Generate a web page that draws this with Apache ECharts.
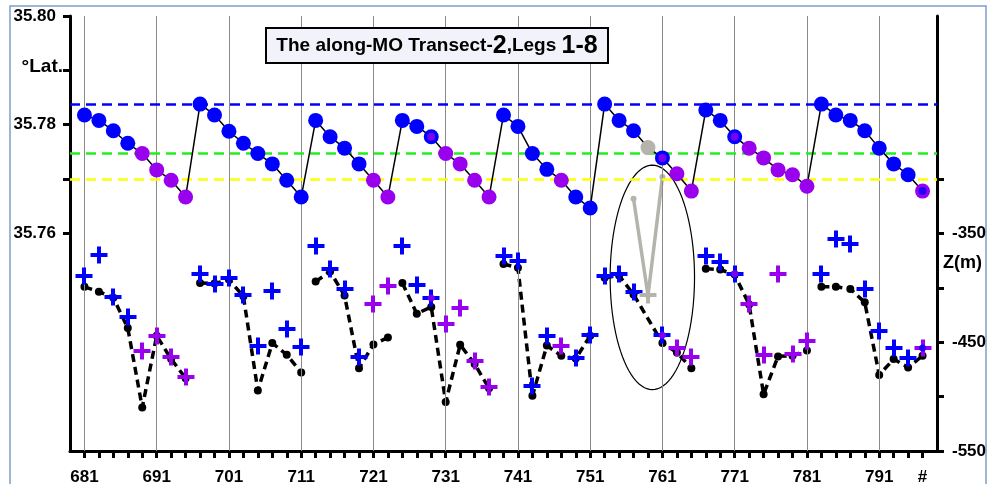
<!DOCTYPE html>
<html>
<head>
<meta charset="utf-8">
<script src="https://cdn.jsdelivr.net/npm/echarts@6/dist/echarts.min.js"></script>
<style>
html,body{margin:0;padding:0;background:#fff;}
#chart{width:987px;height:484px;}
</style>
</head>
<body>
<div id="chart"></div>
<script>
// ---------------- DATA ----------------
const sampleNo = [681,683,685,687,689,691,693,695,697,699,701,703,705,707,709,711,713,715,717,719,721,723,725,727,729,731,733,735,737,739,741,743,745,747,749,751,753,755,757,759,761,763,765,767,769,771,773,775,777,779,781,783,785,787,789,791,793,795,797];
const legStarts = [681,697,713,725,739,753,767,783];
const latitude = [35.7818,35.7808,35.7789,35.7766,35.7747,35.7717,35.7698,35.7667,
  35.7838,35.7818,35.7788,35.7766,35.7747,35.7728,35.7698,35.7667,
  35.7808,35.7778,35.7757,35.7728,35.7698,35.7667,
  35.7808,35.7797,35.7778,35.7747,35.7728,35.7698,35.7667,
  35.7818,35.7797,35.7747,35.7718,35.7698,35.7667,35.7647,
  35.7838,35.7808,35.7789,35.7758,35.7739,35.7710,35.7678,
  35.7827,35.7808,35.7778,35.7757,35.7739,35.7717,35.7708,35.7687,
  35.7838,35.7818,35.7808,35.7789,35.7757,35.7728,35.7708,35.7678];
const latClass = ['B','B','B','B','P','P','P','P',
  'B','B','B','B','B','B','B','B',
  'B','B','B','B','P','P',
  'B','B','BP','P','P','P','P',
  'B','B','B','B','P','B','B',
  'B','B','B','G','BP','P','P',
  'B','B','BP','P','P','P','P','P',
  'B','B','B','B','B','B','B','PB'];
const bottomZ = [-399,-403.5,-409,-437,-510,-444,-465.5,-483,
  -395.5,-396,-392.4,-407.8,-494.4,-450.8,-461.5,-477.8,
  -394.2,-385,-407,-474,-452,-445.6,
  -395.5,-423.7,-417.6,-505,-452.3,-470,-492.3,
  -378,-381.6,-499.3,-453,-462.4,-465,-444,
  -390.8,-388.7,-406,null,-450.8,-459.4,-473.8,
  -382.3,-383.2,-387.8,-415.4,-497.8,-463,-462.4,-457.5,
  -399,-399,-401,-413.3,-480,-465.5,-473.2,-462.4];
const sampleZ = [-388.7,-369.4,-408.7,-426.8,-458.5,-444,-464,-482.4,
  -386.9,-396,-390.8,-406.5,-453.2,-403.2,-437.6,-454.8,
  -361.7,-382.5,-401,-464,-414.5,-397.9,
  -361.7,-397.6,-409.3,-433.3,-418.5,-467.7,-491.3,
  -370.3,-375.5,-489.8,-444,-453.2,-464.6,-443.1,
  -388.7,-387.1,-403.7,-407,-443.5,-455.4,-464,
  -370.3,-376.1,-387.1,-414.5,-461.5,-387.1,-460.9,-448.6,
  -386.9,-354.9,-359.2,-400.7,-439.4,-455.4,-464.6,-455.4];
const sampleClass = ['B','B','B','B','P','P','P','P',
  'B','B','B','B','B','B','B','B',
  'B','B','B','B','P','P',
  'B','B','BP','P','P','P','P',
  'B','B','B','B','P','B','B',
  'B','B','B','G','BP','P','P',
  'B','B','BP','P','P','P','P','P',
  'B','B','B','B','B','B','B','PB'];
const rejectedX = [757,759,761];
const rejectedZ = [-318,-407,-298];
const refLat = {blue:35.7838, green:35.7747, yellow:35.770};
const gridNo = [681,691,701,711,721,731,741,751,761,771,781,791];
const xTickValues = [681,691,701,711,721,731,741,751,761,771,781,791,797];
const xTickLabels = ['681','691','701','711','721','731','741','751','761','771','781','791','#'];
const latTicks = [35.76,35.77,35.78,35.79,35.80];
const latLabels = [35.76,35.78,35.80];
const zTicks = [-550,-500,-450,-400,-350,-300];
const zLabels = [-550,-450,-350];
const ellipse = [759.6,-390.4,5.84,103.2]; // centre (no., m) and half-axes
const titleParts = ['The along-MO Transect-','2',',Legs ','1-8'];

// ---------------- STYLE ----------------
const FF = '"Liberation Sans", Arial, sans-serif';
const COL = {B:'#0000ff', P:'#9900ee', G:'#b4b4ac'};
const inner = c => c.length > 1 ? COL[c[1]] : null;
const PLUS_LEN = 17, PLUS_W = 4;

// ---------------- BUILD ----------------
function legOf(n){ let k=0; legStarts.forEach((s,i)=>{ if(n>=s) k=i; }); return k; }

const latData = sampleNo.map((n,i)=>({value:[n,latitude[i]], itemStyle:{color:COL[latClass[i][0]]}}));
const latInner = [];
sampleNo.forEach((n,i)=>{ if(inner(latClass[i])) latInner.push({value:[n,latitude[i]], itemStyle:{color:inner(latClass[i])}}); });
const plusData = sampleNo.map((n,i)=>({value:[n,sampleZ[i]], itemStyle:{color:COL[sampleClass[i][0]]}}));
const plusInner = [];
sampleNo.forEach((n,i)=>{ if(inner(sampleClass[i])) plusInner.push({value:[n,sampleZ[i]], itemStyle:{color:inner(sampleClass[i])}}); });

const bottomSeries = legStarts.map((s,k)=>({
  type:'line', yAxisIndex:1, z:4, connectNulls:true,
  data: sampleNo.map((n,i)=>[n,bottomZ[i]]).filter((d,i)=>legOf(sampleNo[i])===k),
  symbol:'circle', symbolSize:8, showSymbol:true,
  itemStyle:{color:'#000'},
  lineStyle:{color:'#000', width:3.5, type:[8,5]},
  silent:true
}));

const chart = echarts.init(document.getElementById('chart'), null, {renderer:'canvas'});
const axisLbl = {color:'#000', fontFamily:FF, fontWeight:'bold', fontSize:16};

const option = {
  animation:false,
  backgroundColor:'#fff',
  grid:{left:70, right:50, top:16, bottom:33, containLabel:false, outerBoundsMode:'none'},
  xAxis:{
    type:'value', min:679, max:799, interval:2,
    axisLine:{lineStyle:{color:'#000', width:3}},
    axisTick:{show:true, customValues:sampleNo, length:7, lineStyle:{color:'#000', width:3}},
    axisLabel:Object.assign({customValues:xTickValues, margin:18,
      formatter:v=>xTickLabels[xTickValues.indexOf(v)] ?? ''}, axisLbl, {fontSize:17}),
    splitLine:{show:false}
  },
  yAxis:[{
    type:'value', position:'left', min:35.72, max:35.80, interval:0.01,
    axisLine:{show:true, lineStyle:{color:'#000', width:3}},
    axisTick:{show:true, customValues:latTicks, length:7, lineStyle:{color:'#000', width:3}},
    axisLabel:Object.assign({customValues:latLabels, margin:14, formatter:v=>v.toFixed(2)}, axisLbl, {fontSize:17}),
    splitLine:{show:false}
  },{
    type:'value', position:'right', min:-550, max:-150, interval:50,
    axisLine:{show:true, lineStyle:{color:'#000', width:3}},
    axisTick:{show:true, customValues:zTicks, length:7, lineStyle:{color:'#000', width:3}},
    axisLabel:Object.assign({customValues:zLabels, margin:15, formatter:v=>String(v)}, axisLbl, {fontSize:17}),
    splitLine:{show:false}
  }],
  graphic:[
    {type:'rect', shape:{x:10, y:6, width:976, height:520}, style:{fill:'none', stroke:'#7e9fcc', lineWidth:1.5}, z:0, silent:true},
    {type:'rect', shape:{x:266, y:28, width:342, height:35}, style:{fill:'#f2f2fa', stroke:'#000', lineWidth:2}, z:100},
    {type:'text', x:437, y:46, z:101, style:{
      text:'{a|'+titleParts[0]+'}{b|'+titleParts[1]+'}{a|'+titleParts[2]+'}{b|'+titleParts[3]+'}',
      align:'center', verticalAlign:'middle', textAlign:'center', textVerticalAlign:'middle',
      rich:{a:{fontFamily:FF, fontWeight:'bold', fontSize:19, fill:'#000'},
            b:{fontFamily:FF, fontWeight:'bold', fontSize:25, fill:'#000'}}}},
    {type:'text', x:63, y:67, z:50, style:{text:'°Lat.', font:'bold 19px '+FF, fill:'#000', align:'right', verticalAlign:'middle', textAlign:'right', textVerticalAlign:'middle'}},
    {type:'text', x:943, y:263, z:50, style:{text:'Z(m)', font:'bold 18px '+FF, fill:'#000', align:'left', verticalAlign:'middle', textAlign:'left', textVerticalAlign:'middle'}}
  ],
  series:[
    {type:'line', yAxisIndex:0, data:[], z:1, silent:true,
      markLine:{silent:true, precision:5, symbol:['none','none'], label:{show:false}, animation:false,
        data: gridNo.map(n=>({xAxis:n, lineStyle:{color:'#8a8a8a', width:1, type:'solid'}})).concat([
          {yAxis:refLat.blue, lineStyle:{color:'#0000ff', width:2.5, type:[10,6]}},
          {yAxis:refLat.green, lineStyle:{color:'#22ee22', width:2.5, type:[10,6]}},
          {yAxis:refLat.yellow, lineStyle:{color:'#ffff00', width:2.5, type:[10,6]}}
        ])}},
    {type:'custom', yAxisIndex:1, z:2, silent:true, data:[ellipse],
      renderItem:(params, api)=>{
        const c = api.coord([api.value(0), api.value(1)]);
        const s = api.size([api.value(2), api.value(3)]);
        const pts = [];
        for(let t=0;t<=96;t++){ const a=t/96*Math.PI*2; pts.push([c[0]+s[0]*Math.cos(a), c[1]+s[1]*Math.sin(a)]); }
        return {type:'polygon', shape:{points:pts}, style:{fill:'none', stroke:'#000', lineWidth:1.2}};
      }},
    {type:'line', yAxisIndex:1, z:3, silent:true,
      data: rejectedX.map((n,i)=>[n,rejectedZ[i]]),
      symbol:'circle', symbolSize:6, itemStyle:{color:'#b4b4ac'},
      lineStyle:{color:'#b4b4ac', width:3.5}},
    ...bottomSeries,
    {type:'custom', yAxisIndex:1, z:6, silent:true, data:plusData,
      renderItem:(params, api)=>{
        const p = api.coord([api.value(0), api.value(1)]);
        const c = api.visual('color');
        const x = Math.round(p[0]), y = Math.round(p[1]);
        return {type:'group', children:[
          {type:'rect', shape:{x:x-PLUS_LEN/2, y:y-PLUS_W/2, width:PLUS_LEN, height:PLUS_W}, style:{fill:c}},
          {type:'rect', shape:{x:x-PLUS_W/2, y:y-PLUS_LEN/2, width:PLUS_W, height:PLUS_LEN}, style:{fill:c}}
        ]};
      }},
    {type:'scatter', yAxisIndex:1, z:7, silent:true, data:plusInner, symbol:'circle', symbolSize:7},
    {type:'line', yAxisIndex:0, z:8, silent:true, data:latData, symbol:'circle', symbolSize:15, showSymbol:true,
      lineStyle:{color:'#000', width:1.5}},
    {type:'scatter', yAxisIndex:0, z:9, silent:true, data:latInner, symbol:'circle', symbolSize:8}
  ]
};
chart.setOption(option);
</script>
</body>
</html>
